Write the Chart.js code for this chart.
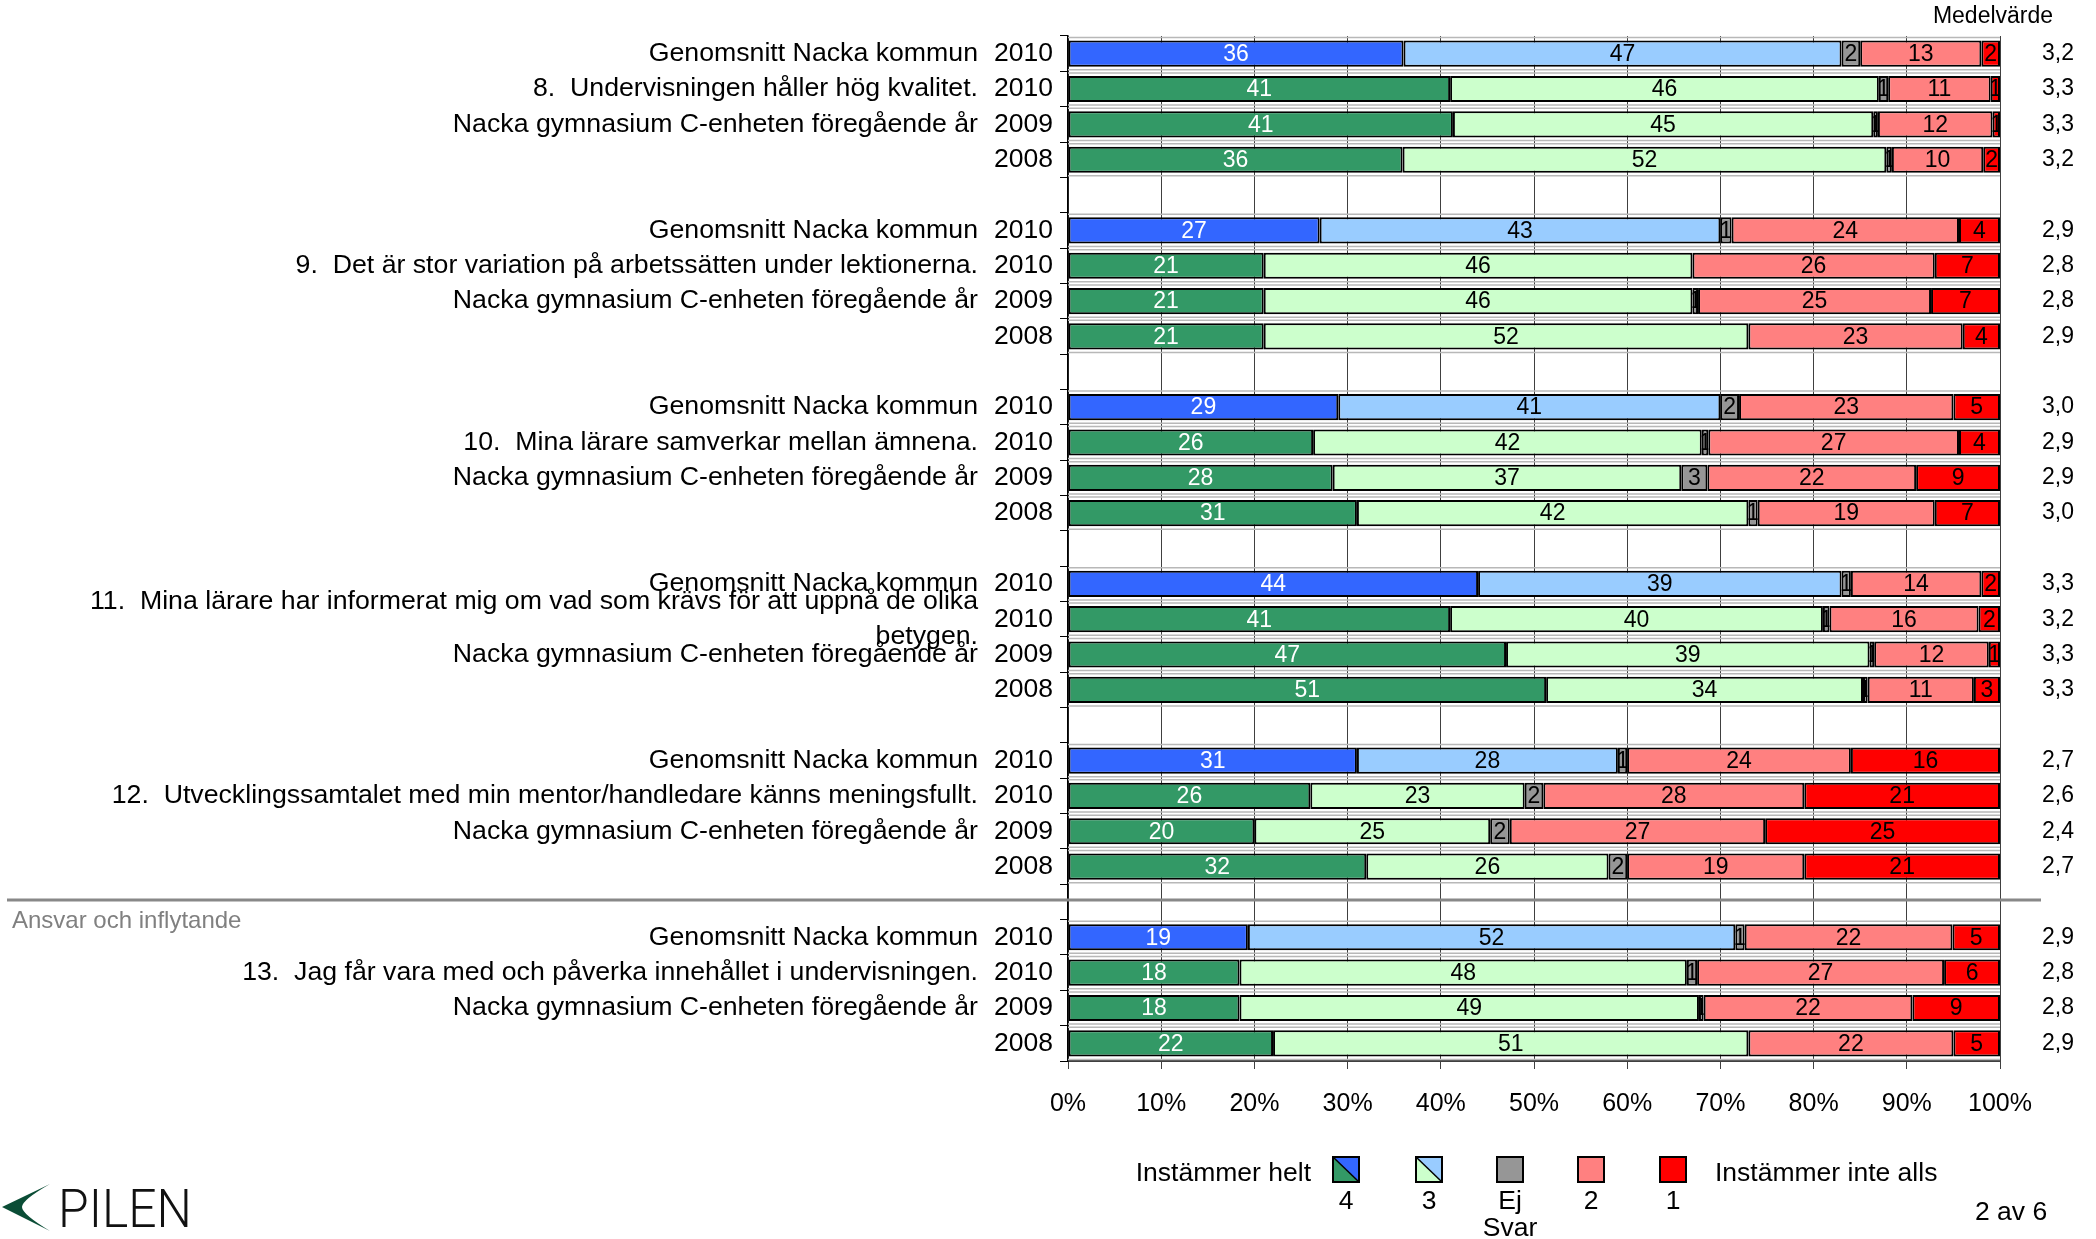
<!DOCTYPE html>
<html>
<head>
<meta charset="utf-8">
<script src="https://cdn.jsdelivr.net/npm/chart.js@4.4.1/dist/chart.umd.min.js"></script>
<style>
  body { margin: 0; background: #fff; }
  canvas { display: block; }
</style>
</head>
<body>
<canvas id="chart" width="2096" height="1239"></canvas>
<script>
// ===============================
// Data (one entry per row, 4 rows per question)
// ===============================
const rowLabels = [
  "Genomsnitt Nacka kommun", "8.  Undervisningen håller hög kvalitet.", "Nacka gymnasium C-enheten föregående år", "",
  "Genomsnitt Nacka kommun", "9.  Det är stor variation på arbetssätten under lektionerna.", "Nacka gymnasium C-enheten föregående år", "",
  "Genomsnitt Nacka kommun", "10.  Mina lärare samverkar mellan ämnena.", "Nacka gymnasium C-enheten föregående år", "",
  "Genomsnitt Nacka kommun", ["11.  Mina lärare har informerat mig om vad som krävs för att uppnå de olika", "betygen."], "Nacka gymnasium C-enheten föregående år", "",
  "Genomsnitt Nacka kommun", "12.  Utvecklingssamtalet med min mentor/handledare känns meningsfullt.", "Nacka gymnasium C-enheten föregående år", "",
  "Genomsnitt Nacka kommun", "13.  Jag får vara med och påverka innehållet i undervisningen.", "Nacka gymnasium C-enheten föregående år", ""
];
const years = [
  "2010", "2010", "2009", "2008", "2010", "2010", "2009", "2008",
  "2010", "2010", "2009", "2008", "2010", "2010", "2009", "2008",
  "2010", "2010", "2009", "2008", "2010", "2010", "2009", "2008"
];
const medelvarde = [
  3.2, 3.3, 3.3, 3.2, 2.9, 2.8, 2.8, 2.9,
  3.0, 2.9, 2.9, 3.0, 3.3, 3.2, 3.3, 3.3,
  2.7, 2.6, 2.4, 2.7, 2.9, 2.8, 2.8, 2.9
];

// svar i procent: 4 (instämmer helt), 3, ej svar, 2, 1 (instämmer inte alls)
const svar4 = [36, 41, 41.3, 35.9, 27, 21, 21, 21, 29, 26.3, 28.4, 31, 44, 41, 47, 51.3, 31, 26, 20, 32, 19.3, 18.4, 18.4, 22];
const svar3 = [47, 46, 45.1, 51.9, 43, 46, 46, 52, 41, 41.7, 37.4, 42, 39, 40, 39, 34, 28, 23, 25.3, 26, 52.3, 48, 49.3, 51];
const ejSvar = [2, 1, 0.5, 0.6, 1.2, 0, 0.6, 0, 2, 0.7, 2.8, 1, 1, 0.7, 0.5, 0.5, 1, 2, 2.1, 2, 1, 1.1, 0.5, 0];
const svar2 = [13, 11, 12.3, 9.8, 24.4, 26, 25, 23, 23, 26.9, 22.4, 19, 14, 16, 12.3, 11.4, 24, 28, 27.4, 19, 22.3, 26.5, 22.4, 22];
const svar1 = [2, 1, 0.8, 1.8, 4.4, 7, 7.4, 4, 5, 4.4, 9, 7, 2, 2.3, 1.2, 2.8, 16, 21, 25.2, 21, 5.1, 6, 9.4, 5];

const xTicks = [0, 10, 20, 30, 40, 50, 60, 70, 80, 90, 100];

const FONT = '"Liberation Sans", Arial, sans-serif';
Chart.defaults.font.family = FONT;
Chart.defaults.color = "#000";

// ===============================
// Insert an empty slot after every question (not after the last)
// ===============================
function withGaps(arr, blank) {
  const out = [];
  arr.forEach((v, i) => {
    out.push(v);
    if (i % 4 === 3 && i < arr.length - 1) out.push(blank);
  });
  return out;
}

const labelSlots = withGaps(rowLabels, "");
const yearSlots = withGaps(years, "");
const meanSlots = withGaps(medelvarde.map((m) => m.toFixed(1).replace(".", ",")), "");
const kommunSlots = withGaps(rowLabels.map((l) => l === "Genomsnitt Nacka kommun"), false);
const filledSlots = withGaps(years.map(() => true), false);

function colorFor(kommunColor, skolaColor) {
  return (ctx) => (kommunSlots[ctx.dataIndex] ? kommunColor : skolaColor);
}

// fixed width for the side axes, no extra padding from label heights
function fixWidth(w) {
  return (s) => {
    s.width = w;
    s.paddingTop = 0;
    s.paddingBottom = 0;
  };
}

// ===============================
// Plugins
// ===============================
const rowLines = {
  id: "rowLines",
  beforeDatasetsDraw(chart) {
    const ctx = chart.ctx;
    const area = chart.chartArea;
    const meta = chart.getDatasetMeta(0);
    ctx.save();
    ctx.strokeStyle = "#b8b8b8";
    ctx.lineWidth = 1.5;
    meta.data.forEach((bar, i) => {
      if (!filledSlots[i]) return;
      const p = bar.getProps(["y", "height"], true);
      [p.y - p.height / 2 - 3, p.y + p.height / 2 + 3].forEach((yy) => {
        ctx.beginPath();
        ctx.moveTo(area.left, yy);
        ctx.lineTo(area.right, yy);
        ctx.stroke();
      });
    });
    ctx.restore();
  }
};

const segmentLabels = {
  id: "segmentLabels",
  afterDatasetsDraw(chart) {
    const ctx = chart.ctx;
    ctx.save();
    ctx.font = "23px " + FONT;
    ctx.textAlign = "center";
    ctx.textBaseline = "middle";
    chart.data.datasets.forEach((ds, di) => {
      const meta = chart.getDatasetMeta(di);
      meta.data.forEach((bar, i) => {
        const v = ds.data[i];
        if (!v) return;
        const p = bar.getProps(["x", "y", "base", "height"], true);
        const left = Math.min(p.x, p.base);
        const right = Math.max(p.x, p.base);
        ctx.save();
        ctx.beginPath();
        ctx.rect(left, p.y - p.height / 2, right - left, p.height);
        ctx.clip();
        ctx.fillStyle = di === 0 ? "#fff" : "#000";
        ctx.fillText(String(Math.round(v)), (left + right) / 2, p.y + 1);
        ctx.restore();
      });
    });
    ctx.restore();
  }
};

const extras = {
  id: "extras",
  afterDraw(chart) {
    const ctx = chart.ctx;
    const yScale = chart.scales.y;
    ctx.save();

    // Medelvärde header
    ctx.font = "23px " + FONT;
    ctx.fillStyle = "#000";
    ctx.textAlign = "center";
    ctx.textBaseline = "middle";
    ctx.fillText("Medelvärde", 1993, 17);

    // section divider in the empty slot before question 13
    const sepY = yScale.getPixelForValue(24);
    ctx.strokeStyle = "#888";
    ctx.lineWidth = 3;
    ctx.beginPath();
    ctx.moveTo(7, sepY - 2);
    ctx.lineTo(2041, sepY - 2);
    ctx.stroke();
    ctx.font = "24px " + FONT;
    ctx.fillStyle = "#808080";
    ctx.textAlign = "left";
    ctx.fillText("Ansvar och inflytande", 12, sepY + 19);

    // legend
    const boxX = [1333, 1416, 1497, 1578, 1660];
    const boxTop = 1157;
    const boxW = 26, boxH = 25;
    const fills = [
      ["#339966", "#3366FF"],
      ["#CCFFCC", "#99CCFF"],
      ["#969696"],
      ["#FF8080"],
      ["#FF0000"]
    ];
    const boxNames = ["4", "3", "Ej", "2", "1"];
    boxX.forEach((x, i) => {
      const y = boxTop;
      if (fills[i].length === 2) {
        ctx.fillStyle = fills[i][0];
        ctx.beginPath();
        ctx.moveTo(x, y);
        ctx.lineTo(x + boxW, y + boxH);
        ctx.lineTo(x, y + boxH);
        ctx.closePath();
        ctx.fill();
        ctx.fillStyle = fills[i][1];
        ctx.beginPath();
        ctx.moveTo(x, y);
        ctx.lineTo(x + boxW, y);
        ctx.lineTo(x + boxW, y + boxH);
        ctx.closePath();
        ctx.fill();
        ctx.strokeStyle = "#000";
        ctx.lineWidth = 1.5;
        ctx.beginPath();
        ctx.moveTo(x, y);
        ctx.lineTo(x + boxW, y + boxH);
        ctx.stroke();
      } else {
        ctx.fillStyle = fills[i][0];
        ctx.fillRect(x, y, boxW, boxH);
      }
      ctx.strokeStyle = "#000";
      ctx.lineWidth = 2;
      ctx.strokeRect(x, y, boxW, boxH);
      ctx.fillStyle = "#000";
      ctx.font = "26.5px " + FONT;
      ctx.textAlign = "center";
      ctx.fillText(boxNames[i], x + boxW / 2, 1202);
    });
    ctx.fillText("Svar", 1510, 1229);
    ctx.textAlign = "right";
    ctx.fillText("Instämmer helt", 1311, 1174);
    ctx.textAlign = "left";
    ctx.fillText("Instämmer inte alls", 1715, 1174);
    ctx.fillText("2 av 6", 1975, 1213);

    // PILEN logo
    ctx.fillStyle = "#0b4d36";
    ctx.beginPath();
    ctx.moveTo(2, 1207);
    ctx.lineTo(50, 1184);
    ctx.quadraticCurveTo(22, 1200, 22, 1207);
    ctx.quadraticCurveTo(22, 1214, 50, 1231);
    ctx.closePath();
    ctx.fill();
    ctx.font = "300 54px Roboto, " + FONT;
    ctx.fillStyle = "#111";
    ctx.textBaseline = "alphabetic";
    const w = ctx.measureText("PILEN").width;
    ctx.translate(58, 1227);
    ctx.scale(134 / w, 1);
    ctx.fillText("PILEN", 0, 0);
    ctx.restore();
  }
};

// ===============================
// Chart
// ===============================
function dataset(label, data, color) {
  return {
    label: label,
    data: withGaps(data, null),
    backgroundColor: color,
    borderColor: "#000",
    borderWidth: 2,
    borderSkipped: false,
    barPercentage: 0.74,
    categoryPercentage: 1
  };
}

new Chart(document.getElementById("chart"), {
  type: "bar",
  data: {
    labels: yearSlots,
    datasets: [
      dataset("4", svar4, colorFor("#3366FF", "#339966")),
      dataset("3", svar3, colorFor("#99CCFF", "#CCFFCC")),
      dataset("Ej svar", ejSvar, "#969696"),
      dataset("2", svar2, "#FF8080"),
      dataset("1", svar1, "#FF0000")
    ]
  },
  options: {
    indexAxis: "y",
    responsive: false,
    animation: false,
    layout: { padding: { top: 36, left: 0, right: 0, bottom: 0 } },
    plugins: { legend: { display: false }, tooltip: { enabled: false } },
    scales: {
      x: {
        stacked: true,
        min: 0,
        max: 100,
        afterFit: (s) => { s.height = 178; },
        afterBuildTicks: (s) => { s.ticks = xTicks.map((v) => ({ value: v })); },
        ticks: {
          callback: (v) => v + "%",
          font: { size: 25 },
          padding: 20,
          maxRotation: 0,
          autoSkip: false
        },
        grid: { color: "#404040", lineWidth: 1, tickLength: 8 },
        border: { color: "#404040", width: 2 }
      },
      y: {
        stacked: true,
        type: "category",
        labels: yearSlots,
        offset: true,
        weight: 0,
        afterFit: fixWidth(83),
        ticks: { font: { size: 26.5 }, padding: 7, autoSkip: false },
        grid: { offset: true, drawOnChartArea: false, drawTicks: true, tickLength: 8, color: "#000" },
        border: { color: "#000", width: 1.5 }
      },
      rowText: {
        type: "category",
        position: "left",
        labels: labelSlots,
        offset: true,
        weight: 1,
        afterFit: fixWidth(985),
        ticks: { font: { size: 26.7, lineHeight: 1.32 }, padding: 7, autoSkip: false },
        grid: { display: false, drawTicks: false },
        border: { display: false }
      },
      mean: {
        type: "category",
        position: "right",
        labels: meanSlots,
        offset: true,
        afterFit: fixWidth(96),
        ticks: { font: { size: 23 }, padding: 42, autoSkip: false },
        grid: { display: false, drawTicks: false },
        border: { display: false }
      }
    }
  },
  plugins: [rowLines, segmentLabels, extras]
});
</script>
</body>
</html>
